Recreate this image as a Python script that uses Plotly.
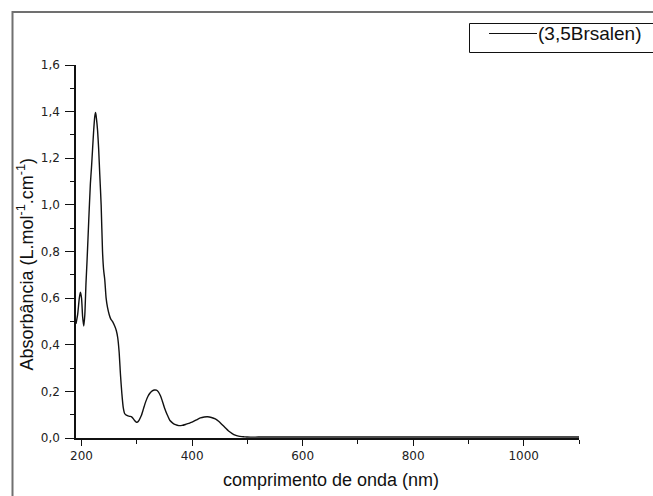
import plotly.graph_objects as go

# UV-Vis absorption spectrum of (3,5Brsalen)
wavelength_nm = [
    190, 193, 196, 198, 200, 202, 204, 206, 208, 210, 213, 216, 218, 220, 222,
    224, 225.5, 227, 229, 231, 233, 235.5, 238, 240, 242, 244.5, 247, 250,
    253, 256, 260, 263, 265.5, 268, 270.5, 273, 275.5, 278, 281, 284, 287,
    290, 293, 296, 299, 301, 304, 308, 312, 316, 320, 324, 328, 332, 335.5,
    339, 343, 346, 350, 355, 360, 365, 370, 376, 382, 388, 394, 400, 408,
    415, 422, 428, 435, 442, 448, 454, 460, 466, 472, 478, 484, 490, 495,
    500, 520, 560, 600, 700, 800, 900, 1000, 1100,
]
absorbance = [
    0.49, 0.53, 0.60, 0.625, 0.60, 0.52, 0.48, 0.53, 0.66, 0.76, 0.93, 1.09,
    1.16, 1.24, 1.32, 1.38, 1.396, 1.37, 1.32, 1.24, 1.13, 1.00, 0.80, 0.72,
    0.68, 0.60, 0.56, 0.53, 0.51, 0.50, 0.48, 0.46, 0.43, 0.37, 0.27, 0.19,
    0.13, 0.105, 0.098, 0.095, 0.093, 0.092, 0.085, 0.075, 0.068, 0.068,
    0.076, 0.095, 0.125, 0.155, 0.178, 0.193, 0.202, 0.206, 0.205, 0.198,
    0.180, 0.160, 0.130, 0.100, 0.075, 0.064, 0.057, 0.053, 0.054, 0.058,
    0.063, 0.068, 0.078, 0.086, 0.090, 0.091, 0.088, 0.082, 0.072, 0.058,
    0.044, 0.030, 0.020, 0.012, 0.008, 0.006, 0.005, 0.004, 0.004, 0.004,
    0.004, 0.004, 0.004, 0.004, 0.004, 0.004,
]

x_tick_vals = [200, 400, 600, 800, 1000]
x_tick_text = ["200", "400", "600", "800", "1000"]
y_tick_vals = [0.0, 0.2, 0.4, 0.6, 0.8, 1.0, 1.2, 1.4, 1.6]
y_tick_text = ["0,0", "0,2", "0,4", "0,6", "0,8", "1,0", "1,2", "1,4", "1,6"]

series_name = "(3,5Brsalen)"
x_title = "comprimento de onda (nm)"
y_title = "Absorbância (L.mol<sup>-1</sup>.cm<sup>-1</sup>)"

W, H = 653, 496
ML, MR, MT, MB = 76, 74, 65, 58
PW, PH = W - ML - MR, H - MT - MB


def px(x):
    return (x - ML) / PW


def py(y):
    return (H - MB - y) / PH


fig = go.Figure()
fig.add_trace(go.Scatter(
    x=wavelength_nm, y=absorbance, mode="lines", name=series_name,
    line=dict(color="#111111", width=1.4, shape="spline", smoothing=0.6),
    showlegend=False,
))

tick_font = dict(family="DejaVu Sans", size=12, color="#222222")

fig.update_layout(
    width=W, height=H,
    margin=dict(l=ML, r=MR, t=MT, b=MB),
    paper_bgcolor="white", plot_bgcolor="white",
    xaxis=dict(
        range=[190, 1100], showgrid=False, zeroline=False,
        showline=True, linecolor="#111111", linewidth=1.5,
        ticks="outside", ticklen=6, tickwidth=1, tickcolor="#111111",
        tickvals=x_tick_vals, ticktext=x_tick_text, tickfont=tick_font,
        minor=dict(ticks="outside", ticklen=4, tickwidth=1,
                   tickcolor="#111111", dtick=100, tick0=100),
    ),
    yaxis=dict(
        range=[0, 1.6], showgrid=False, zeroline=False,
        showline=True, linecolor="#111111", linewidth=1.5,
        ticks="outside", ticklen=9, tickwidth=1, tickcolor="#111111",
        tickvals=y_tick_vals, ticktext=y_tick_text, tickfont=tick_font,
        ticklabelstandoff=3,
        minor=dict(ticks="outside", ticklen=4, tickwidth=1,
                   tickcolor="#111111", dtick=0.1, tick0=0.1),
    ),
)

# outer grey frame of the graph page
fig.add_shape(type="rect", xref="paper", yref="paper",
              x0=px(12.5), y0=py(12), x1=px(W + 20), y1=py(H + 20),
              line=dict(color="#707070", width=2), layer="above")

# legend box with line sample and label
fig.add_shape(type="rect", xref="paper", yref="paper",
              x0=px(469.5), y0=py(23.5), x1=px(W + 20), y1=py(52.5),
              line=dict(color="#111111", width=1), fillcolor="white")
fig.add_shape(type="line", xref="paper", yref="paper",
              x0=px(489), y0=py(33.5), x1=px(537), y1=py(33.5),
              line=dict(color="#111111", width=1.2))
fig.add_annotation(xref="paper", yref="paper", x=px(536), y=py(33.5),
                   xanchor="left", yanchor="middle", showarrow=False,
                   text=series_name,
                   font=dict(family="Liberation Sans", size=19, color="#111111"))

# axis titles
fig.add_annotation(xref="paper", yref="paper", x=px(330.5), y=py(480),
                   xanchor="center", yanchor="middle", showarrow=False,
                   text=x_title,
                   font=dict(family="Liberation Sans", size=18, color="#111111"))
fig.add_annotation(xref="paper", yref="paper", x=px(25.5), y=py(265),
                   xanchor="center", yanchor="middle", showarrow=False,
                   textangle=-90, text=y_title,
                   font=dict(family="Liberation Sans", size=18, color="#111111"))

fig.write_html("out.html")
